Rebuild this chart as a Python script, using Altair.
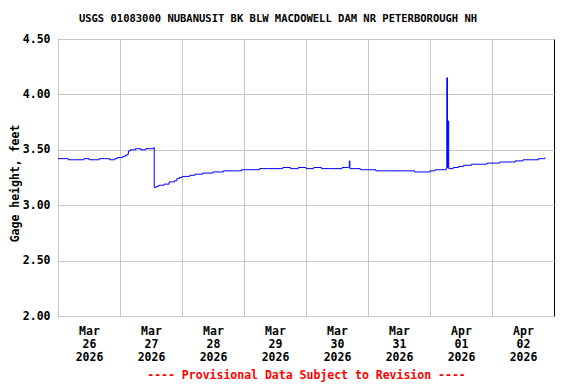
import altair as alt
import pandas as pd

times = [
    "2026-03-26T00:00", "2026-03-26T02:00", "2026-03-26T04:00", "2026-03-26T06:00",
    "2026-03-26T08:00", "2026-03-26T10:00", "2026-03-26T12:00", "2026-03-26T14:00",
    "2026-03-26T16:00", "2026-03-26T18:00", "2026-03-26T20:00", "2026-03-26T22:00",
    "2026-03-26T23:00",
    "2026-03-27T00:00", "2026-03-27T01:00", "2026-03-27T02:00", "2026-03-27T02:45",
    "2026-03-27T03:15", "2026-03-27T04:00", "2026-03-27T06:00", "2026-03-27T08:00",
    "2026-03-27T10:00", "2026-03-27T12:00", "2026-03-27T13:00", "2026-03-27T13:15",
    "2026-03-27T14:00", "2026-03-27T15:00", "2026-03-27T17:00", "2026-03-27T19:00",
    "2026-03-27T21:00", "2026-03-27T22:00", "2026-03-27T23:00",
    "2026-03-28T00:00", "2026-03-28T03:00", "2026-03-28T05:00", "2026-03-28T08:00",
    "2026-03-28T12:00", "2026-03-28T16:00", "2026-03-28T20:00", "2026-03-28T23:00",
    "2026-03-29T02:00", "2026-03-29T06:00", "2026-03-29T09:00", "2026-03-29T12:00",
    "2026-03-29T15:00", "2026-03-29T18:00", "2026-03-29T21:00",
    "2026-03-30T00:00", "2026-03-30T03:00", "2026-03-30T06:00", "2026-03-30T09:00",
    "2026-03-30T12:00", "2026-03-30T14:00", "2026-03-30T16:30", "2026-03-30T16:45",
    "2026-03-30T17:00", "2026-03-30T19:00", "2026-03-30T21:00",
    "2026-03-31T00:00", "2026-03-31T03:00", "2026-03-31T06:00", "2026-03-31T09:00",
    "2026-03-31T12:00", "2026-03-31T15:00", "2026-03-31T18:00", "2026-03-31T21:00",
    "2026-04-01T00:00", "2026-04-01T02:00", "2026-04-01T04:00", "2026-04-01T06:15",
    "2026-04-01T06:30", "2026-04-01T06:45", "2026-04-01T07:00", "2026-04-01T07:15",
    "2026-04-01T09:00", "2026-04-01T11:00", "2026-04-01T13:00", "2026-04-01T16:00",
    "2026-04-01T19:00", "2026-04-01T22:00",
    "2026-04-02T00:00", "2026-04-02T03:00", "2026-04-02T06:00", "2026-04-02T09:00",
    "2026-04-02T12:00", "2026-04-02T15:00", "2026-04-02T18:00", "2026-04-02T20:30",
]

heights = [
    3.42, 3.42, 3.41, 3.41,
    3.41, 3.42, 3.41, 3.41,
    3.42, 3.42, 3.41, 3.42,
    3.43,
    3.43, 3.44, 3.45, 3.46,
    3.49, 3.50, 3.51, 3.50,
    3.51, 3.51, 3.52, 3.16,
    3.17, 3.18, 3.19, 3.21,
    3.22, 3.24, 3.25,
    3.26, 3.27, 3.28, 3.29,
    3.30, 3.31, 3.31, 3.32,
    3.32, 3.33, 3.33, 3.33,
    3.34, 3.33, 3.34,
    3.33, 3.34, 3.33, 3.33,
    3.33, 3.34, 3.34, 3.40,
    3.33, 3.33, 3.32,
    3.32, 3.31, 3.31, 3.31,
    3.31, 3.31, 3.30, 3.30,
    3.31, 3.32, 3.32, 3.33,
    4.15, 3.34, 3.76, 3.33,
    3.34, 3.35, 3.36, 3.37,
    3.37, 3.38,
    3.38, 3.39, 3.39, 3.40,
    3.41, 3.41, 3.42, 3.43,
]

y_ticks = [2.0, 2.5, 3.0, 3.5, 4.0, 4.5]
day_ticks = [26, 27, 28, 29, 30, 31, 1, 2]
day_months = [3, 3, 3, 3, 3, 3, 4, 4]

title_text = "USGS 01083000 NUBANUSIT BK BLW MACDOWELL DAM NR PETERBOROUGH NH"
y_title = "Gage height, feet"
footer = "---- Provisional Data Subject to Revision ----"

df = pd.DataFrame({"time": times, "height": heights})

FONT = "DejaVu Sans Mono"

x_values = [alt.DateTime(year=2026, month=m, date=d) for m, d in zip(day_months, day_ticks)]

chart = alt.Chart(df).mark_line(color="#0000ff", strokeWidth=1, interpolate="step-after").encode(
    x=alt.X(
        "time:T",
        scale=alt.Scale(domain=[alt.DateTime(year=2026, month=3, date=26),
                                alt.DateTime(year=2026, month=4, date=3)]),
        axis=alt.Axis(
            values=x_values,
            labelExpr="[timeFormat(datum.value, '%b'), timeFormat(datum.value, '%d'), timeFormat(datum.value, '%Y')]",
            labelOffset=31,
            labelFlush=False,
            labelLineHeight=13,
            labelPadding=9,
            ticks=False,
            domain=False,
            grid=True,
            gridColor="#c8c8c8",
            labelFont=FONT,
            labelFontSize=11.5,
            labelFontWeight="bold",
            labelColor="black",
            title=footer,
            titleColor="#ff0000",
            titleFont=FONT,
            titleFontSize=11.5,
            titleFontWeight="bold",
            titlePadding=7,
        ),
    ),
    y=alt.Y(
        "height:Q",
        scale=alt.Scale(domain=[2.0, 4.5], nice=False),
        axis=alt.Axis(
            values=y_ticks,
            format=".2f",
            ticks=False,
            domain=False,
            grid=True,
            gridColor="#c8c8c8",
            labelPadding=8,
            labelFont=FONT,
            labelFontSize=11.5,
            labelFontWeight="bold",
            labelColor="black",
            title=y_title,
            titleFont=FONT,
            titleFontSize=11.5,
            titleFontWeight="bold",
            titleColor="black",
            titleX=-43,
            titleY=144,
            titleBaseline="middle",
        ),
    ),
).properties(
    width=496,
    height=277,
    title=alt.TitleParams(title_text, font=FONT, fontSize=10.5, fontWeight="bold",
                          color="black", dx=-28, offset=9),
    autosize=alt.AutoSizeParams(type="none"),
    padding={"left": 50, "top": 31, "right": 14, "bottom": 70},
).configure_view(
    stroke="black", strokeWidth=1
)

chart.save("out.html", embed_options={"renderer": "svg", "actions": False})
